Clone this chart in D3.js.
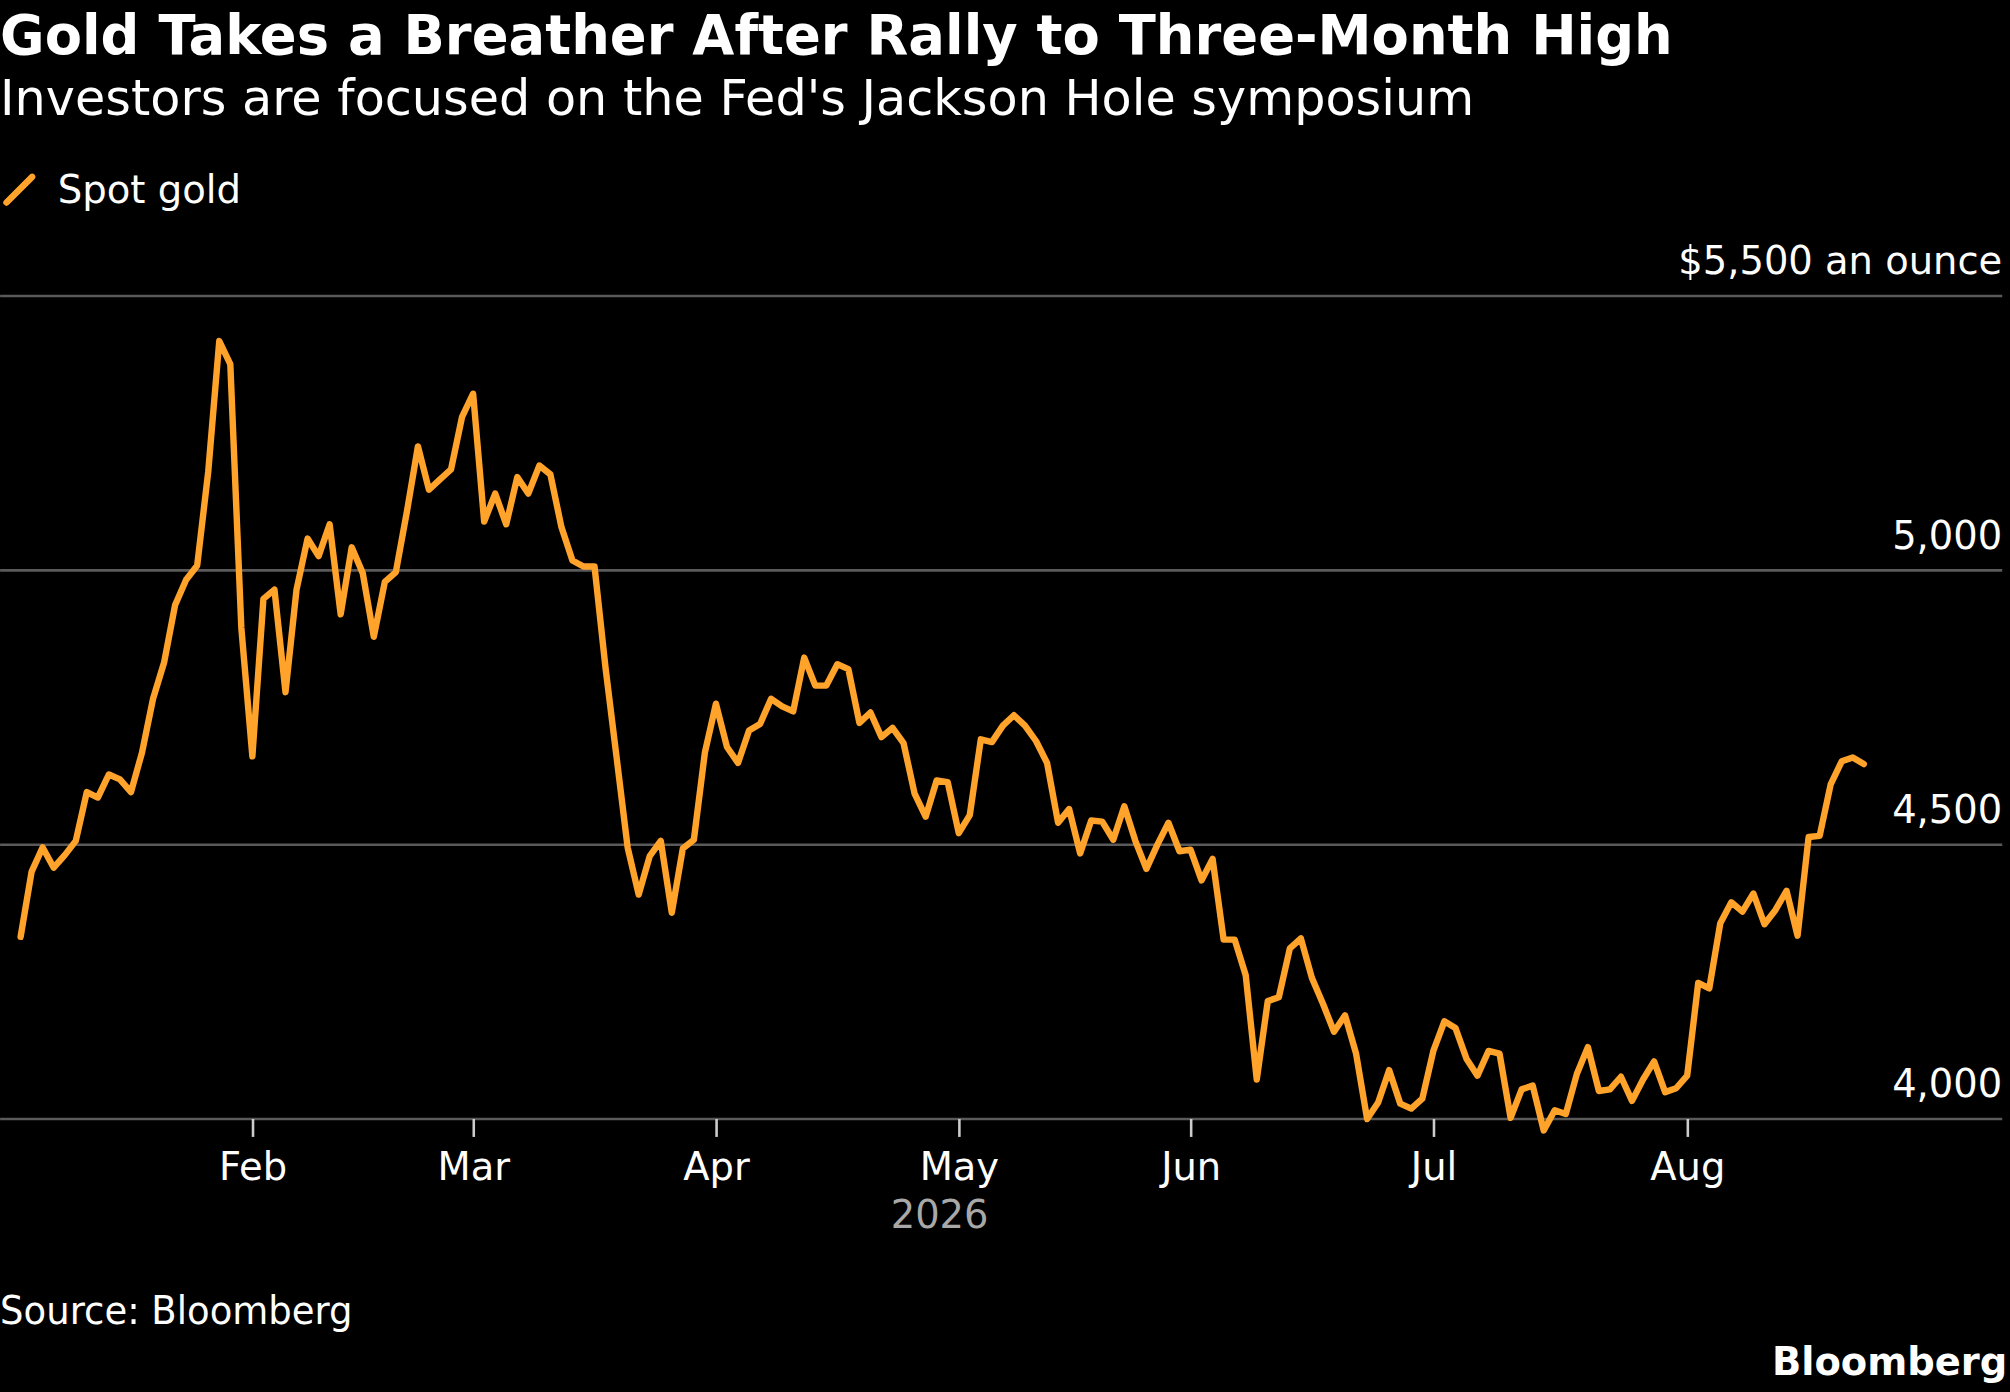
<!DOCTYPE html>
<html>
<head>
<meta charset="utf-8">
<script src="https://cdn.jsdelivr.net/npm/d3@7"></script>
<style>
  html, body { margin: 0; padding: 0; background: #000; }
  svg { display: block; }
  text { font-family: "DejaVu Sans", sans-serif; fill: #fff; }
</style>
</head>
<body>
<svg id="chart"></svg>
<script>
// spot gold, one value per trading session from Jan 2 2026
var firstDate = "2026-01-02";
var goldValues = [
  4332, 4451, 4495, 4458, 4481, 4507, 4596, 4586, 4628, 4619,
  4596, 4668, 4766, 4832, 4937, 4983, 5009, 5180, 5418, 5376,
  4895, 4661, 4948, 4965, 4778, 4965, 5058, 5026, 5084, 4920,
  5042, 4995, 4879, 4979, 4997, 5107, 5226, 5147, 5166, 5184,
  5280, 5322, 5089, 5140, 5084, 5170, 5140, 5191, 5175, 5079,
  5018, 5007, 5007, 4822, 4659, 4495, 4409, 4479, 4507, 4376,
  4493, 4509, 4668, 4757, 4678, 4649, 4708, 4720, 4766, 4752,
  4743, 4841, 4790, 4790, 4829, 4820, 4722, 4741, 4696, 4713,
  4685, 4593, 4551, 4617, 4614, 4521, 4554, 4692, 4687, 4717,
  4736, 4717, 4689, 4649, 4540, 4565, 4484, 4544, 4542, 4509,
  4570, 4507, 4456, 4500, 4540, 4488, 4491, 4435, 4474, 4327,
  4327, 4262, 4072, 4215, 4222, 4311, 4329, 4257, 4210, 4159,
  4189, 4119, 4000, 4030, 4089, 4028, 4019, 4037, 4124, 4178,
  4166, 4110, 4079, 4124, 4119, 4002, 4054, 4061, 3979, 4016,
  4009, 4082, 4131, 4051, 4054, 4077, 4033, 4072, 4105, 4049,
  4056, 4079, 4248, 4238, 4357, 4395, 4378, 4411, 4355, 4381,
  4416, 4334, 4514, 4516, 4610, 4652, 4659, 4647
];
var yTicks = [4000, 4500, 5000, 5500];
var monthTicks = ["2026-02-01", "2026-03-01", "2026-04-01", "2026-05-01", "2026-06-01", "2026-07-01", "2026-08-01"];

var parse = d3.timeParse("%Y-%m-%d");
var fmtMonth = d3.timeFormat('%b');

// weekday calendar: session index for each value
var dates = [];
var d = parse(firstDate);
goldValues.forEach(function(){
  while (d.getDay() === 0 || d.getDay() === 6) d = d3.timeDay.offset(d, 1);
  dates.push(d);
  d = d3.timeDay.offset(d, 1);
});
var sessionOf = function(s){
  var t = parse(s);
  return dates.findIndex(function(dd){ return dd >= t; });
};

var svg = d3.select('#chart')
  .attr('width', 2010).attr('height', 1392)
  .attr('viewBox', '0 0 1568 1086');

var x = d3.scaleLinear().domain([0, goldValues.length - 1]).range([16, 1454]);
var y = d3.scaleLinear().domain([4000, 5500]).range([873, 231]);

// titles
svg.append('text').attr('x', 0).attr('y', 42)
  .style('font-size', '43px').style('font-weight', 'bold')
  .attr('textLength', 1305).attr('lengthAdjust', 'spacingAndGlyphs')
  .text('Gold Takes a Breather After Rally to Three-Month High');
svg.append('text').attr('x', 0).attr('y', 90)
  .style('font-size', '39px')
  .attr('textLength', 1150).attr('lengthAdjust', 'spacingAndGlyphs')
  .text("Investors are focused on the Fed's Jackson Hole symposium");

// legend
svg.append('line').attr('x1', 5).attr('y1', 158).attr('x2', 25).attr('y2', 138)
  .attr('stroke', '#ffa32a').attr('stroke-width', 5).attr('stroke-linecap', 'round');
svg.append('text').attr('x', 45).attr('y', 158).style('font-size', '31px')
  .attr('textLength', 143).attr('lengthAdjust', 'spacingAndGlyphs').text('Spot gold');

// grid + y labels
svg.selectAll('.grid').data(yTicks).enter().append('line')
  .attr('x1', 0).attr('x2', 1562)
  .attr('y1', function(t){ return y(t); }).attr('y2', function(t){ return y(t); })
  .attr('stroke', '#5a5a5a').attr('stroke-width', 2);
svg.selectAll('.ylab').data(yTicks).enter().append('text')
  .attr('x', 1562).attr('y', function(t){ return y(t) - 17; })
  .attr('text-anchor', 'end').style('font-size', '30px')
  .text(function(t){ return t === 5500 ? '$5,500 an ounce' : d3.format(',')(t); });

// x axis at the first session of each month
var xAxis = d3.axisBottom(x)
  .tickValues(monthTicks.map(sessionOf))
  .tickFormat(function(i){ return fmtMonth(dates[i]); })
  .tickSize(14).tickPadding(12);
var gx = svg.append('g').attr('transform', 'translate(0,873)').call(xAxis);
gx.select('.domain').remove();
gx.selectAll('line').attr('stroke', '#cccccc').attr('stroke-width', 2);
gx.selectAll('text').style('font-size', '30px').attr('fill', '#fff')
  .style('font-family', '"DejaVu Sans", sans-serif');
svg.append('text').attr('x', 733).attr('y', 958).attr('text-anchor', 'middle')
  .style('font-size', '30px').style('fill', '#a8a8a8').text('2026');

// line
var line = d3.line()
  .x(function(v, i){ return x(i); })
  .y(function(v){ return y(v); });
svg.append('path').datum(goldValues).attr('d', line)
  .attr('fill', 'none').attr('stroke', '#ffa32a').attr('stroke-width', 5)
  .attr('stroke-linejoin', 'round').attr('stroke-linecap', 'round');

// footer
svg.append('text').attr('x', 0).attr('y', 1033).style('font-size', '30px')
  .attr('textLength', 275).attr('lengthAdjust', 'spacingAndGlyphs').text('Source: Bloomberg');
svg.append('text').attr('x', 1566).attr('y', 1073).attr('text-anchor', 'end')
  .style('font-size', '30px').style('font-weight', 'bold').text('Bloomberg');
</script>
</body>
</html>
